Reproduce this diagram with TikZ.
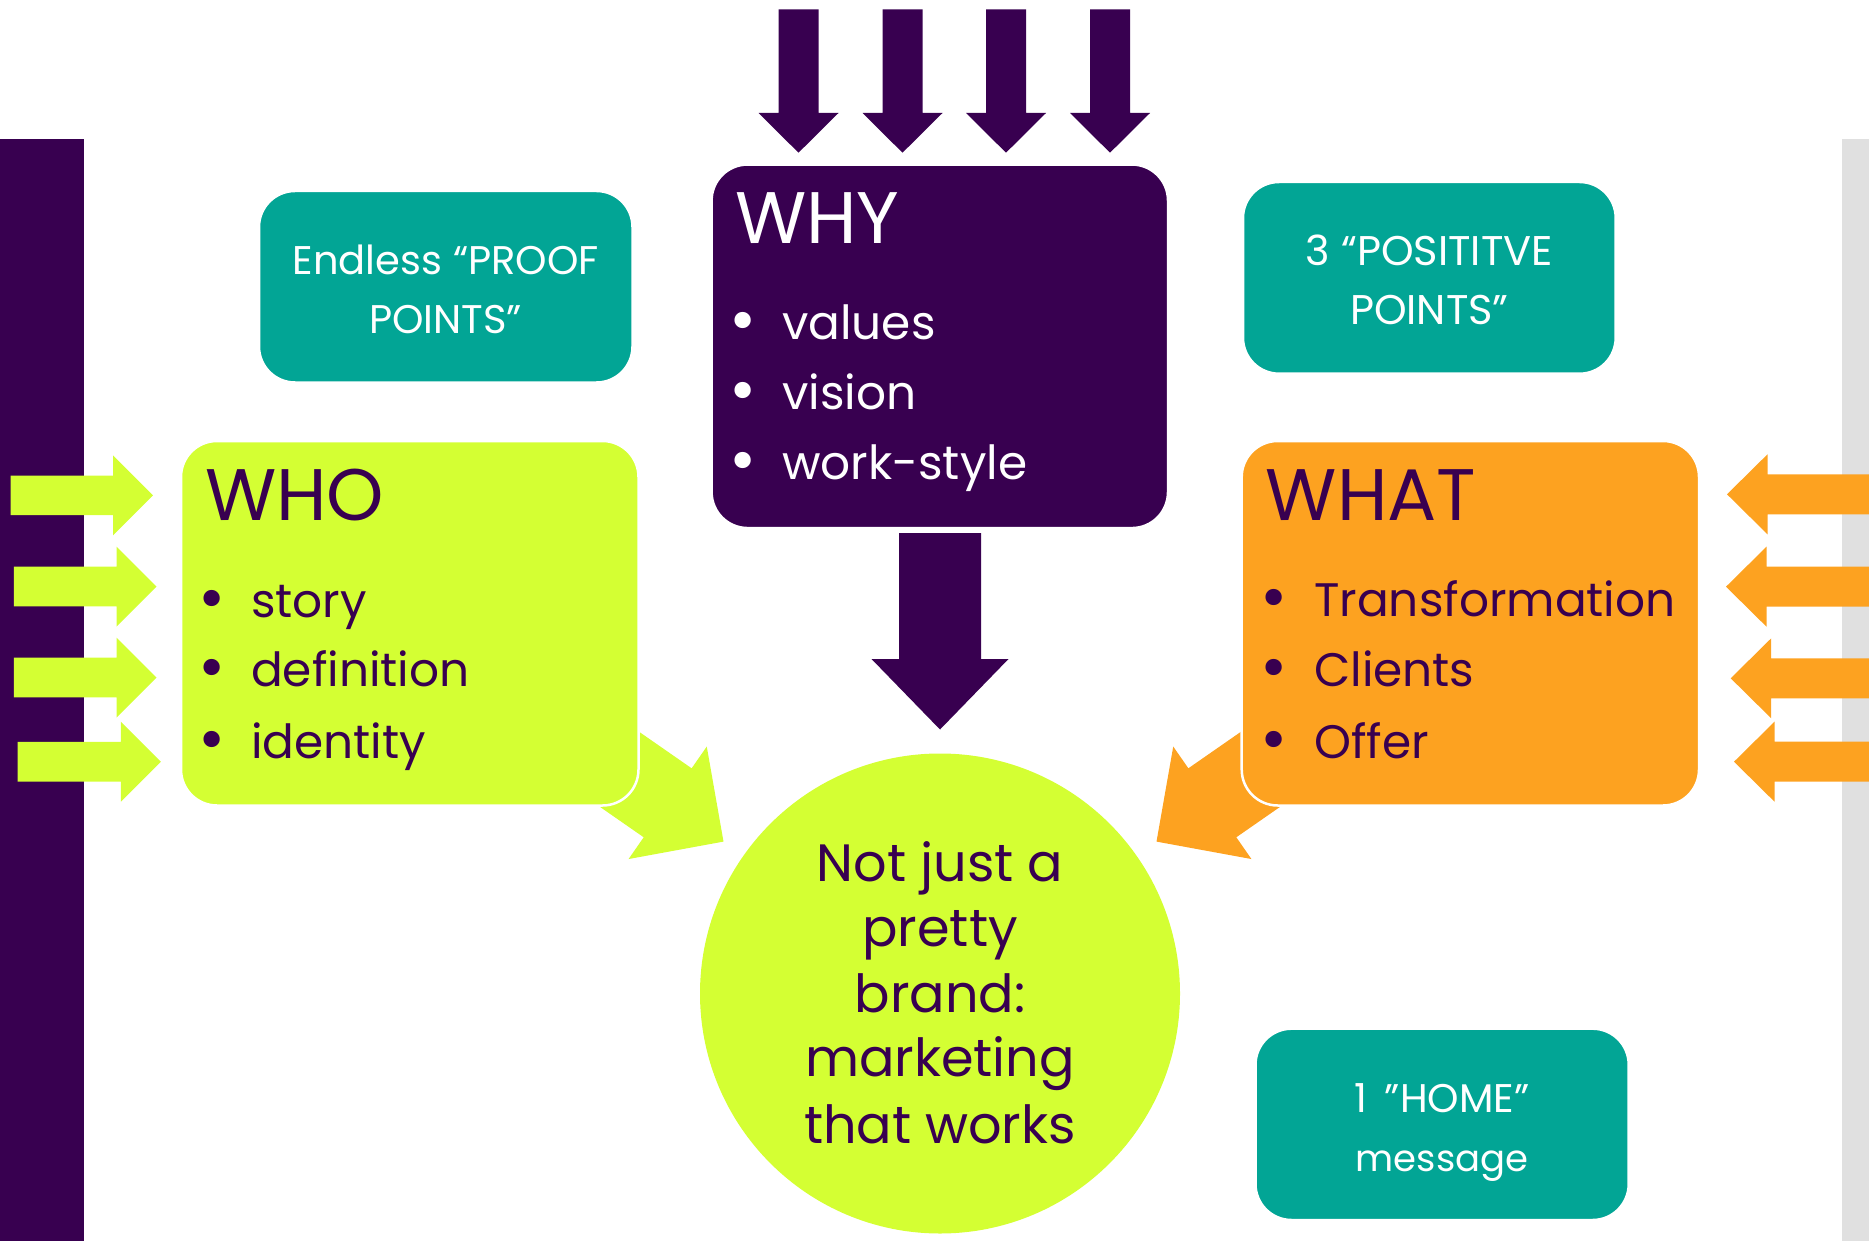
\documentclass[tikz,border=0pt]{standalone}
\usepackage{fontspec}
\setmainfont{Poppins}
\usetikzlibrary{calc}

\definecolor{plum}{RGB}{56,0,80}
\definecolor{lime}{RGB}{212,255,51}
\definecolor{amber}{RGB}{253,162,32}
\definecolor{sea}{RGB}{2,165,149}
\definecolor{mist}{RGB}{224,224,224}

% block arrow: colour, tail, tip, shaft half-width, head half-width, head length
\newcommand\blockarrow[6]{%
  \coordinate (ba) at ($(#3)!#6!(#2)$);
  \fill[#1] ($(#2)!#4!90:(#3)$) -- ($(ba)!#4!90:(#3)$) -- ($(ba)!#5!90:(#3)$)
    -- (#3) -- ($(ba)!#5!-90:(#3)$) -- ($(ba)!#4!-90:(#3)$)
    -- ($(#2)!#4!-90:(#3)$) -- cycle;
}

\tikzset{
  card/.style={rectangle, rounded corners=36pt, draw=white, line width=2.5pt, inner sep=0pt},
  txt/.style={inner sep=0pt, anchor=base west},
  ctxt/.style={inner sep=0pt, anchor=base},
  title/.style={txt, font=\fontsize{73}{80}\selectfont},
  item/.style={txt, font=\fontsize{47}{56}\selectfont},
  dot/.style={ctxt, font=\fontsize{66}{70}\selectfont},
  note/.style={ctxt, white, font=\fontsize{40}{48}\selectfont},
  core/.style={ctxt, plum, font=\fontsize{52.5}{64}\selectfont},
}

\begin{document}
\begin{tikzpicture}[x=1pt, y=-1pt]
\useasboundingbox (0,0) rectangle (1869,1241);

% side bars
\fill[plum] (0,139.5) rectangle (83.5,1241);
\fill[mist] (1842,139.5) rectangle (1869,1241);

% central circle
\node[circle, fill=lime, minimum size=480pt, inner sep=0pt] (goal) at (940,993.5) {};

% diagonal arrows into the circle (tails hidden under the boxes)
\coordinate (wt) at (559.5,727.6);
\coordinate (wp) at (723.5,841.6);
\blockarrow{lime}{wt}{wp}{42pt}{68.5pt}{68pt}
\coordinate (at) at (1320.5,727.6);
\coordinate (ap) at (1156.5,841.6);
\blockarrow{amber}{at}{ap}{42pt}{68.5pt}{68pt}

% boxes
\node[card, fill=plum, minimum width=456.4pt, minimum height=363.5pt] (why) at (939.8,346.3) {};
\node[card, fill=lime, minimum width=457.5pt, minimum height=364.5pt] (who) at (409.75,623.25) {};
\node[card, fill=amber, minimum width=457.3pt, minimum height=364.5pt] (what) at (1470.35,623.25) {};
\node[card, fill=sea, minimum width=373.5pt, minimum height=191.5pt] (proof) at (445.75,286.75) {};
\node[card, fill=sea, minimum width=372.7pt, minimum height=191.7pt] (posit) at (1429.35,277.85) {};
\node[card, fill=sea, minimum width=373.2pt, minimum height=191.3pt] (home) at (1442.1,1124.35) {};

% arrows from above into WHY
\foreach \i/\x in {1/798.5, 2/902.5, 3/1006, 4/1110} {
  \coordinate (top\i) at (\x,9.5);
  \coordinate (tip\i) at (\x,152.7);
  \blockarrow{plum}{top\i}{tip\i}{20pt}{40pt}{39.7pt}
}

% WHY down to the circle
\coordinate (dt) at (940,533);
\coordinate (dp) at (940,729.5);
\blockarrow{plum}{dt}{dp}{41pt}{68.5pt}{70.5pt}

% arrows from the left into WHO
\foreach \i/\a/\b/\y in {1/10.5/153/495.3, 2/13.9/156.5/586.5, 3/13.9/156.5/677.5, 4/17.7/160.8/761.7} {
  \coordinate (lt\i) at (\a,\y);
  \coordinate (lp\i) at (\b,\y);
  \blockarrow{lime}{lt\i}{lp\i}{19.8pt}{40pt}{40pt}
}

% arrows from the right into WHAT
\foreach \i/\b/\y in {1/1727/494.3, 2/1726/586.7, 3/1730.7/678.3, 4/1734/761.7} {
  \coordinate (rt\i) at (1880,\y);
  \coordinate (rp\i) at (\b,\y);
  \blockarrow{amber}{rt\i}{rp\i}{20pt}{40pt}{40.5pt}
}

% WHY text
\node[title, white] (whyt) at (735,243.5) {WHY};
\foreach \n/\y/\s in {1/340/values, 2/409/vision, 3/479/work-style} {
  \node[dot, white] (whyb\n) at (743.5,\y+3) {•};
  \node[item, white] (whyi\n) at (782,\y) {\s};
}

% WHO text
\node[title, plum] (whot) at (205,520.7) {WHO};
\foreach \n/\y/\s in {1/617/story, 2/686/definition, 3/758/identity} {
  \node[dot, plum] (whob\n) at (212.5,\y+3) {•};
  \node[item, plum] (whoi\n) at (251,\y) {\s};
}

% WHAT text
\node[title, plum] (whatt) at (1265.6,520.7) {WHAT};
\foreach \n/\y/\s in {1/616/Transformation, 2/686/Clients, 3/758/Offer} {
  \node[dot, plum] (whatb\n) at (1274,\y+3) {•};
  \node[item, plum] (whati\n) at (1314,\y) {\s};
}

% teal notes
\node[note] (proof1) at (445.75,275) {Endless “PROOF};
\node[note] (proof2) at (445.75,333.3) {POINTS”};
\node[note, font=\fontsize{41.5}{48}\selectfont] (posit1) at (1429.35,265.7) {3 “POSITITVE};
\node[note, font=\fontsize{41.5}{48}\selectfont] (posit2) at (1429.35,324) {POINTS”};
\node[note] (home1) at (1442.1,1112.7) {1 \,”HOME”};
\node[note, font=\fontsize{37}{44}\selectfont] (home2) at (1442.1,1171) {message};

% circle text
\node[core] (g1) at (940,881.7) {Not just a};
\node[core] (g2) at (940,946.6) {pretty};
\node[core] (g3) at (940,1012) {brand:};
\node[core] (g4) at (940,1076.6) {marketing};
\node[core] (g5) at (940,1143) {that works};
\end{tikzpicture}
\end{document}
